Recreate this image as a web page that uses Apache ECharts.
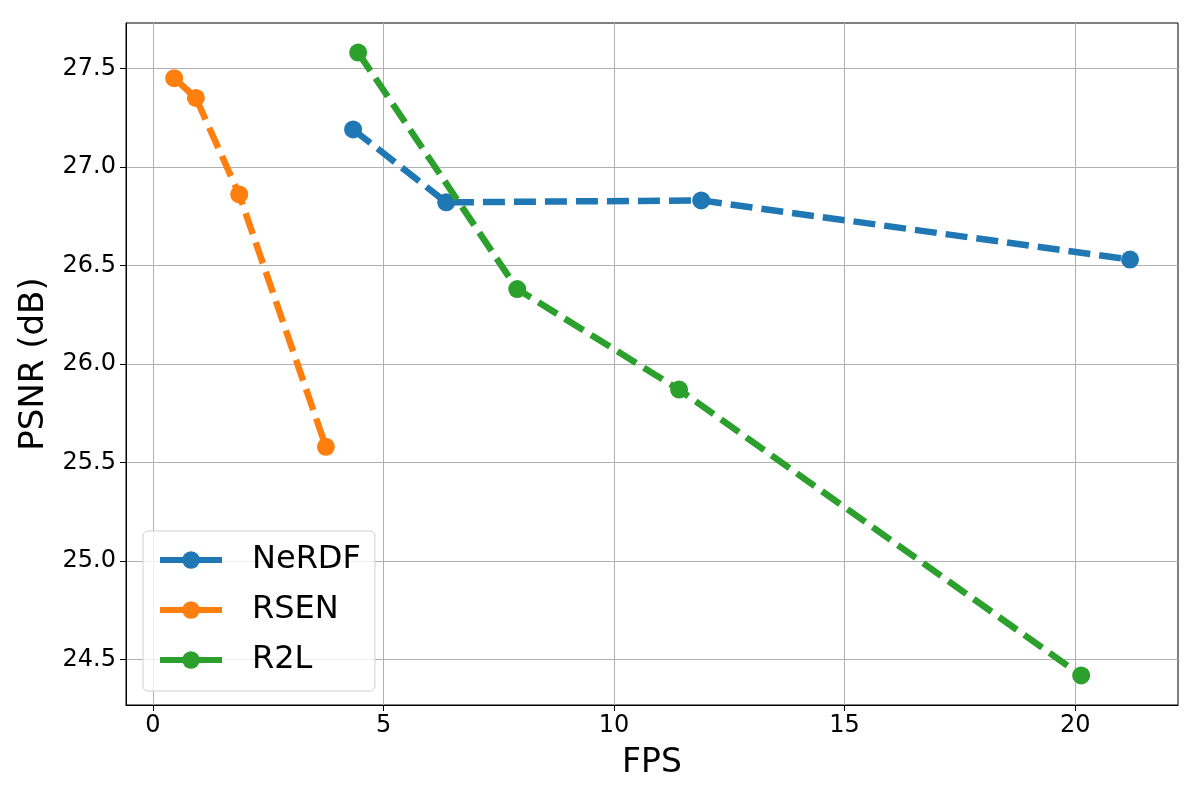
<!DOCTYPE html>
<html>
<head>
<meta charset="utf-8">
<script src="https://cdn.jsdelivr.net/npm/echarts@6/dist/echarts.min.js"></script>
<style>html,body{margin:0;padding:0;background:#fff}#c{width:1200px;height:800px}</style>
</head>
<body>
<div id="c"></div>
<script>
const seriesNames = ['NeRDF', 'RSEN', 'R2L'];
const seriesColors = ['#1f77b4', '#ff7f0e', '#2ca02c'];
const nerdfFps = [4.34, 6.36, 11.89, 21.19];
const nerdfPsnr = [27.19, 26.82, 26.83, 26.53];
const rsenFps = [0.46, 0.93, 1.87, 3.75];
const rsenPsnr = [27.45, 27.35, 26.86, 25.58];
const r2lFps = [4.45, 7.9, 11.41, 20.13];
const r2lPsnr = [27.58, 26.38, 25.87, 24.42];
const xTicks = [0, 5, 10, 15, 20];
const yTicks = [24.5, 25.0, 25.5, 26.0, 26.5, 27.0, 27.5];

const xs = [nerdfFps, rsenFps, r2lFps];
const ys = [nerdfPsnr, rsenPsnr, r2lPsnr];

const font = 'DejaVu Sans';
const chart = echarts.init(document.getElementById('c'), null, {renderer: 'canvas'});
const series = seriesNames.map((n, i) => ({
  name: n,
  type: 'line',
  data: xs[i].map((x, k) => [x, ys[i][k]]),
  symbol: 'circle',
  symbolSize: 18,
  showAllSymbol: true,
  color: seriesColors[i],
  itemStyle: {color: seriesColors[i]},
  lineStyle: {color: seriesColors[i], width: 6.5, type: [22, 9]},
  z: 2 + i,
  animation: false
}));

chart.setOption({
  animation: false,
  backgroundColor: '#fff',
  grid: {left: 126, top: 23, right: 22, bottom: 95, show: true, borderColor: '#000', borderWidth: 1, containLabel: false},
  xAxis: {
    type: 'value', min: -0.585, max: 22.23,
    name: 'FPS', nameLocation: 'middle', nameGap: 42,
    nameTextStyle: {fontFamily: font, fontSize: 33, color: '#000'},
    axisLine: {show: true, onZero: false, lineStyle: {color: '#000', width: 1}},
    axisTick: {show: true, length: 6, lineStyle: {color: '#000'}, customValues: xTicks},
    axisLabel: {fontFamily: font, fontSize: 24, color: '#000', margin: 9, customValues: xTicks},
    splitLine: {show: true, lineStyle: {color: '#b0b0b0', width: 1}}
  },
  yAxis: {
    type: 'value', min: 24.27, max: 27.73,
    name: 'PSNR (dB)', nameLocation: 'middle', nameGap: 72, nameRotate: 90,
    nameTextStyle: {fontFamily: font, fontSize: 34, color: '#000'},
    axisLine: {show: true, onZero: false, lineStyle: {color: '#000', width: 1}},
    axisTick: {show: true, length: 6, lineStyle: {color: '#000'}, customValues: yTicks},
    axisLabel: {fontFamily: font, fontSize: 24, color: '#000', margin: 10, customValues: yTicks,
      formatter: v => Number(v).toFixed(1)},
    splitLine: {show: true, lineStyle: {color: '#b0b0b0', width: 1}}
  },
  legend: {
    data: seriesNames,
    orient: 'vertical',
    left: 143, top: 531,
    itemWidth: 62, itemHeight: 22, itemGap: 18,
    padding: [13, 14, 15, 14],
    backgroundColor: 'rgba(255,255,255,0.8)',
    borderColor: '#d0d0d0', borderWidth: 1, borderRadius: 5,
    lineStyle: {type: 'solid', width: 6},
    textStyle: {fontFamily: font, fontSize: 32, color: '#000', padding: [0, 0, 0, 25]}
  },
  series: series
});
</script>
</body>
</html>
